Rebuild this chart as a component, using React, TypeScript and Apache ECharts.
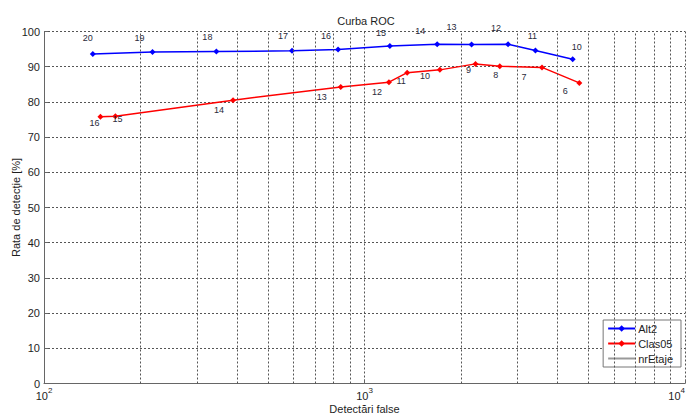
import React, { useEffect, useRef } from "react";
import * as echarts from "echarts";

// Alt2 series (x = false detections, y = detection rate %)
const alt2X = [142, 218, 345, 594, 827, 1200, 1686, 2158, 2805, 3414, 4462];
const alt2Y = [93.6, 94.2, 94.3, 94.5, 94.9, 95.9, 96.4, 96.3, 96.4, 94.6, 92.1];
const alt2Labels = ["20", "19", "18", "17", "16", "15", "14", "13", "12", "11", "10"];

// Clas05 series
const clas05X = [150, 167, 389, 843, 1192, 1359, 1719, 2220, 2643, 3580, 4680];
const clas05Y = [75.8, 75.9, 80.5, 84.2, 85.6, 88.3, 89.1, 90.8, 90.1, 89.8, 85.4];
const clas05Labels = ["16", "15", "14", "13", "12", "11", "10", "9", "8", "7", "6"];

// minor log grid values
const minorGridX = [200, 300, 400, 500, 600, 700, 800, 900, 2000, 3000, 4000, 5000, 6000, 7000, 8000, 9000];
const yTicks = [0, 10, 20, 30, 40, 50, 60, 70, 80, 90, 100];

// label placement (layout only, pixel offsets from each point)
const alt2LabelOffsets = [[-5, -16], [-13, -14], [-9, -15], [-9, -15], [-12, -13], [-9, -13], [-17, -13], [-20, -18], [-12, -16], [-3, -15], [4, -12]];
const clas05LabelOffsets = [[-6, 6], [2, 3], [-14, 10], [-19, 10], [-12, 10], [-6, 8], [-15, 6], [-7, 6], [-4, 9], [-18, 10], [-14, 8]];

const FONT = "'Liberation Sans', Arial, sans-serif";
const TXT = "#1e1e1e";
const GRID = "#555";

export default function App() {
  const ref = useRef<HTMLDivElement>(null);
  useEffect(() => {
    if (!ref.current) return;
    const chart = echarts.init(ref.current, undefined, { renderer: "svg" });
    const mk = (xs: number[], ys: number[], offs: number[][]) =>
      xs.map((x, i) => ({ value: [x, ys[i]], label: { offset: offs[i] } }));
    chart.setOption({
      animation: false,
      backgroundColor: "#fff",
      textStyle: { fontFamily: FONT },
      title: {
        text: "Curba ROC",
        left: 361,
        top: 10,
        textAlign: "center",
        textStyle: { fontSize: 11, fontWeight: "normal", color: TXT, fontFamily: FONT },
      },
      grid: { left: 44, right: 6, top: 31.5, bottom: 30.5, containLabel: false, outerBoundsMode: "none" },
      legend: {
        data: [
          "Alt2",
          "Clas05",
          { name: "nrEtaje", itemStyle: { opacity: 0 } },
        ],
        orient: "vertical",
        right: 10,
        bottom: 47,
        itemWidth: 27,
        itemHeight: 8,
        itemGap: 4,
        padding: [3, 8, 3, 4],
        borderColor: "#777",
        borderWidth: 1,
        borderRadius: 0,
        backgroundColor: "#fff",
        textStyle: { fontSize: 11, color: TXT, fontFamily: FONT, padding: [0, 0, 0, -2] },
      },
      xAxis: {
        type: "log",
        logBase: 10,
        min: 100,
        max: 10000,
        name: "Detectări false",
        nameLocation: "middle",
        nameGap: 20,
        nameMoveOverlap: false,
        nameTextStyle: { fontSize: 11, color: TXT, fontFamily: FONT },
        axisLine: { lineStyle: { color: "#666", width: 1 } },
        axisTick: { show: true, inside: true, length: 4, lineStyle: { color: "#666" } },
        axisLabel: {
          margin: 3,
          alignMaxLabel: "right",
          formatter: (v: number) => `{b|10}{s|${Math.round(Math.log10(v))}}`,
          rich: {
            b: { fontSize: 11, color: TXT, fontFamily: FONT, verticalAlign: "bottom" },
            s: { fontSize: 8, color: TXT, fontFamily: FONT, verticalAlign: "bottom", padding: [0, 0, 7, 0] },
          },
        },
        splitLine: { show: true, lineStyle: { color: GRID, type: [2, 2], width: 1 } },
      },
      yAxis: {
        type: "value",
        min: 0,
        max: 100,
        interval: 10,
        name: "Rata de detecţie [%]",
        nameLocation: "middle",
        nameGap: 23,
        nameMoveOverlap: false,
        nameRotate: 90,
        nameTextStyle: { fontSize: 11, color: TXT, fontFamily: FONT },
        axisLine: { show: true, lineStyle: { color: "#666", width: 1 } },
        axisTick: { show: true, inside: true, length: 4, lineStyle: { color: "#666" } },
        axisLabel: {
          margin: 4,
          fontSize: 11,
          color: TXT,
          fontFamily: FONT,
          customValues: yTicks,
        },
        splitLine: { show: true, lineStyle: { color: GRID, type: [2, 2], width: 1 } },
      },
      series: [
        {
          name: "minorGrid",
          type: "line",
          data: [],
          silent: true,
          z: 1,
          markLine: {
            silent: true,
            symbol: "none",
            label: { show: false },
            lineStyle: { color: GRID, type: [2, 2], width: 1 },
            data: minorGridX.map((v) => ({ xAxis: v })),
          },
        },
        {
          name: "Alt2",
          type: "line",
          z: 4,
          data: mk(alt2X, alt2Y, alt2LabelOffsets),
          symbol: "diamond",
          symbolSize: 6,
          color: "#0000ff",
          lineStyle: { color: "#0000ff", width: 1.5 },
          itemStyle: { color: "#0000ff" },
          label: {
            show: true,
            position: "inside",
            fontSize: 9,
            color: "#2a2a3a",
            fontFamily: FONT,
            formatter: (p: any) => alt2Labels[p.dataIndex],
          },
        },
        {
          name: "Clas05",
          type: "line",
          z: 4,
          data: mk(clas05X, clas05Y, clas05LabelOffsets),
          symbol: "diamond",
          symbolSize: 6,
          color: "#ff0000",
          lineStyle: { color: "#ff0000", width: 1.5 },
          itemStyle: { color: "#ff0000" },
          label: {
            show: true,
            position: "inside",
            fontSize: 9,
            color: "#2a2a3a",
            fontFamily: FONT,
            formatter: (p: any) => clas05Labels[p.dataIndex],
          },
        },
        {
          name: "nrEtaje",
          type: "line",
          data: [],
          symbol: "none",
          color: "#999",
          lineStyle: { color: "#999", width: 1.5 },
          itemStyle: { color: "#999" },
        },
      ],
    });
    return () => chart.dispose();
  }, []);
  return (
    <div
      ref={ref}
      style={{ position: "fixed", left: 0, top: 0, width: 691, height: 414, background: "#fff" }}
    />
  );
}
